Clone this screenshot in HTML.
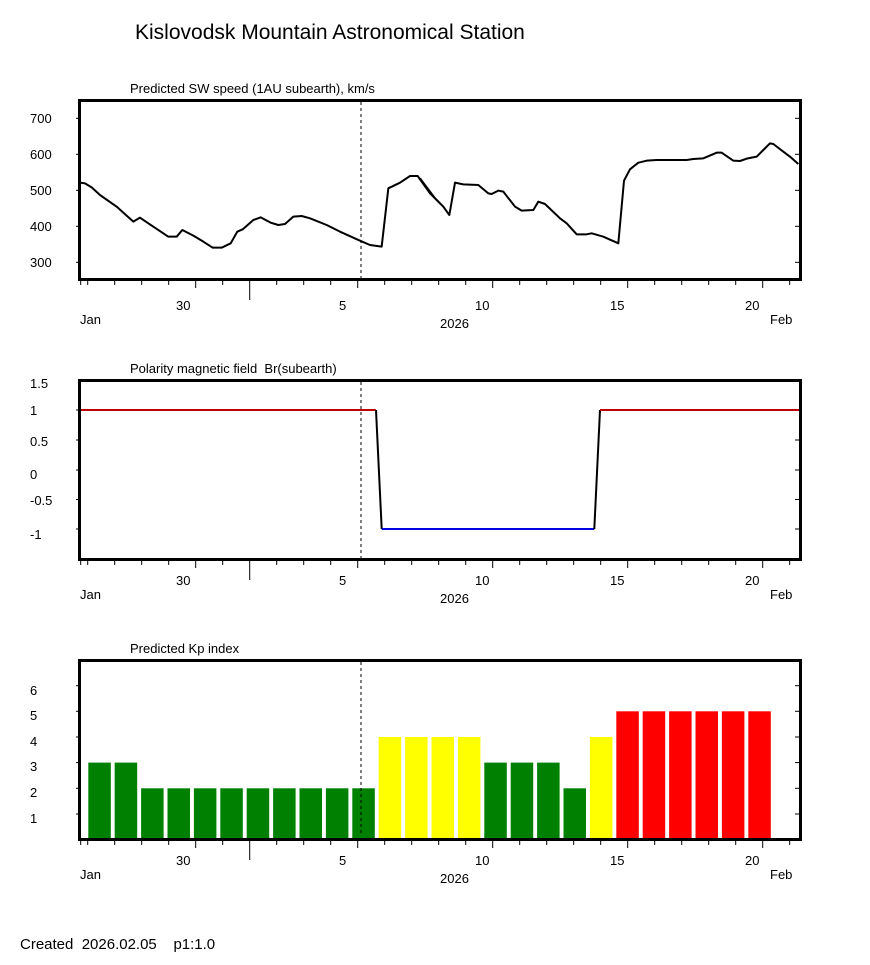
<!DOCTYPE html>
<html><head><meta charset="utf-8"><style>
html,body{margin:0;padding:0;background:#fff;}
svg{display:block;font-family:"Liberation Sans",Arial,sans-serif;}
text{white-space:pre;}
</style></head><body>
<svg width="870" height="965" viewBox="0 0 870 965" xmlns="http://www.w3.org/2000/svg">
<defs>
<g id="xt" stroke="#000" stroke-width="1">
<line x1="87.7" y1="0" x2="87.7" y2="4"/><line x1="114.7" y1="0" x2="114.7" y2="4"/><line x1="141.7" y1="0" x2="141.7" y2="4"/><line x1="168.7" y1="0" x2="168.7" y2="4"/><line x1="195.7" y1="0" x2="195.7" y2="7"/><line x1="222.7" y1="0" x2="222.7" y2="4"/><line x1="249.7" y1="0" x2="249.7" y2="19"/><line x1="276.7" y1="0" x2="276.7" y2="4"/><line x1="303.7" y1="0" x2="303.7" y2="4"/><line x1="330.7" y1="0" x2="330.7" y2="4"/><line x1="357.7" y1="0" x2="357.7" y2="7"/><line x1="384.7" y1="0" x2="384.7" y2="4"/><line x1="411.7" y1="0" x2="411.7" y2="4"/><line x1="438.7" y1="0" x2="438.7" y2="4"/><line x1="465.7" y1="0" x2="465.7" y2="4"/><line x1="492.7" y1="0" x2="492.7" y2="7"/><line x1="519.7" y1="0" x2="519.7" y2="4"/><line x1="546.7" y1="0" x2="546.7" y2="4"/><line x1="573.7" y1="0" x2="573.7" y2="4"/><line x1="600.7" y1="0" x2="600.7" y2="4"/><line x1="627.7" y1="0" x2="627.7" y2="7"/><line x1="654.7" y1="0" x2="654.7" y2="4"/><line x1="681.7" y1="0" x2="681.7" y2="4"/><line x1="708.7" y1="0" x2="708.7" y2="4"/><line x1="735.7" y1="0" x2="735.7" y2="4"/><line x1="762.7" y1="0" x2="762.7" y2="7"/><line x1="789.7" y1="0" x2="789.7" y2="4"/><line x1="80.7" y1="0" x2="80.7" y2="4"/>
</g>
<g id="xl" font-size="13" fill="#000">
<text x="176" y="0">30</text><text x="339" y="0">5</text><text x="475" y="0">10</text><text x="610" y="0">15</text><text x="745" y="0">20</text>
<text x="80" y="14">Jan</text><text x="440" y="18">2026</text><text x="770" y="14">Feb</text>
</g>
</defs>

<text x="135" y="39" font-size="21">Kislovodsk Mountain Astronomical Station</text>

<!-- Panel 1 -->
<text x="130" y="93" font-size="13">Predicted SW speed (1AU subearth), km/s</text>
<g font-size="13"><text x="30" y="123">700</text><text x="30" y="159">600</text><text x="30" y="195">500</text><text x="30" y="231">400</text><text x="30" y="267">300</text></g>
<g stroke="#000" stroke-width="1">
<line x1="76" y1="118.3" x2="79" y2="118.3"/><line x1="76" y1="154.3" x2="79" y2="154.3"/><line x1="76" y1="190.3" x2="79" y2="190.3"/><line x1="76" y1="226.3" x2="79" y2="226.3"/><line x1="76" y1="262.3" x2="79" y2="262.3"/>
<line x1="795" y1="118.3" x2="801" y2="118.3"/><line x1="795" y1="154.3" x2="801" y2="154.3"/><line x1="795" y1="190.3" x2="801" y2="190.3"/><line x1="795" y1="226.3" x2="801" y2="226.3"/><line x1="795" y1="262.3" x2="801" y2="262.3"/>
</g>
<line x1="361" y1="102" x2="361" y2="278" stroke="#000" stroke-width="1" stroke-dasharray="3,3"/>
<g transform="translate(20,90) scale(0.33333)" fill="none" stroke="#000" stroke-width="6" stroke-linejoin="round">
<polyline points="180,278 195,280 215,292 240,315 290,350 340,395 360,383 400,410 445,440 470,440 487,420 520,437 550,455 578,473 605,473 632,460 652,425 668,418 700,390 722,382 752,398 775,405 795,402 820,380 845,378 870,385 920,405 960,425 1020,452 1050,465 1085,470 1105,295 1140,278 1170,258 1193,258 1230,310 1260,340"/>
</g>
<g transform="translate(420,90) scale(0.33333)" fill="none" stroke="#000" stroke-width="6" stroke-linejoin="round">
<polyline points="0,265 45,325 70,350 88,375 105,278 130,283 175,285 205,310 215,312 235,302 250,305 285,350 305,362 340,360 355,335 375,342 420,385 440,400 470,433 500,433 515,430 550,440 595,460 612,272 630,238 655,218 680,212 710,210 800,210 820,207 850,205 890,188 905,188 940,212 960,213 980,206 1010,200 1030,180 1050,160 1060,162 1090,185 1110,200 1135,222"/>
</g>
<rect x="79.5" y="100.5" width="721" height="179" fill="none" stroke="#000" stroke-width="3"/>
<use href="#xt" y="281"/>
<use href="#xl" y="310"/>

<!-- Panel 2 -->
<text x="130" y="373" font-size="13">Polarity magnetic field  Br(subearth)</text>
<g font-size="13"><text x="30" y="388">1.5</text><text x="30" y="415">1</text><text x="30" y="446">0.5</text><text x="30" y="479">0</text><text x="30" y="505">-0.5</text><text x="30" y="539">-1</text></g>
<g stroke="#000" stroke-width="1">
<line x1="76" y1="410" x2="79" y2="410"/><line x1="76" y1="440" x2="79" y2="440"/><line x1="76" y1="470" x2="79" y2="470"/><line x1="76" y1="499.5" x2="79" y2="499.5"/><line x1="76" y1="529" x2="79" y2="529"/>
<line x1="795" y1="440" x2="801" y2="440"/><line x1="795" y1="470" x2="801" y2="470"/><line x1="795" y1="499.5" x2="801" y2="499.5"/><line x1="795" y1="529" x2="801" y2="529"/>
</g>
<line x1="361" y1="382" x2="361" y2="558" stroke="#000" stroke-width="1" stroke-dasharray="3,3"/>
<line x1="80" y1="410" x2="376" y2="410" stroke="#c00000" stroke-width="2"/>
<polyline points="376,410 381.7,529" fill="none" stroke="#000" stroke-width="2"/>
<line x1="381.7" y1="529" x2="594.3" y2="529" stroke="#0000e0" stroke-width="2"/>
<polyline points="594.3,529 600,410" fill="none" stroke="#000" stroke-width="2"/>
<line x1="600" y1="410" x2="801" y2="410" stroke="#c00000" stroke-width="2"/>
<rect x="79.5" y="380.5" width="721" height="179" fill="none" stroke="#000" stroke-width="3"/>
<use href="#xt" y="561"/>
<use href="#xl" y="585"/>

<!-- Panel 3 -->
<text x="130" y="653" font-size="13">Predicted Kp index</text>
<g font-size="13"><text x="30" y="695">6</text><text x="30" y="720">5</text><text x="30" y="746">4</text><text x="30" y="771">3</text><text x="30" y="797">2</text><text x="30" y="823">1</text></g>
<g stroke="#000" stroke-width="1">
<line x1="76" y1="685.7" x2="79" y2="685.7"/><line x1="76" y1="711.3" x2="79" y2="711.3"/><line x1="76" y1="737" x2="79" y2="737"/><line x1="76" y1="762.6" x2="79" y2="762.6"/><line x1="76" y1="788.3" x2="79" y2="788.3"/><line x1="76" y1="814" x2="79" y2="814"/>
<line x1="795" y1="685.7" x2="801" y2="685.7"/><line x1="795" y1="711.3" x2="801" y2="711.3"/><line x1="795" y1="737" x2="801" y2="737"/><line x1="795" y1="762.6" x2="801" y2="762.6"/><line x1="795" y1="788.3" x2="801" y2="788.3"/><line x1="795" y1="814" x2="801" y2="814"/>
</g>
<g>
<rect x="88.3" y="762.6" width="22.5" height="77" fill="#008000"/>
<rect x="114.7" y="762.6" width="22.5" height="77" fill="#008000"/>
<rect x="141.1" y="788.3" width="22.5" height="51" fill="#008000"/>
<rect x="167.5" y="788.3" width="22.5" height="51" fill="#008000"/>
<rect x="193.9" y="788.3" width="22.5" height="51" fill="#008000"/>
<rect x="220.3" y="788.3" width="22.5" height="51" fill="#008000"/>
<rect x="246.7" y="788.3" width="22.5" height="51" fill="#008000"/>
<rect x="273.1" y="788.3" width="22.5" height="51" fill="#008000"/>
<rect x="299.5" y="788.3" width="22.5" height="51" fill="#008000"/>
<rect x="325.9" y="788.3" width="22.5" height="51" fill="#008000"/>
<rect x="352.3" y="788.3" width="22.5" height="51" fill="#008000"/>
<rect x="378.7" y="737" width="22.5" height="102" fill="#ffff00"/>
<rect x="405.1" y="737" width="22.5" height="102" fill="#ffff00"/>
<rect x="431.5" y="737" width="22.5" height="102" fill="#ffff00"/>
<rect x="457.9" y="737" width="22.5" height="102" fill="#ffff00"/>
<rect x="484.3" y="762.6" width="22.5" height="77" fill="#008000"/>
<rect x="510.7" y="762.6" width="22.5" height="77" fill="#008000"/>
<rect x="537.1" y="762.6" width="22.5" height="77" fill="#008000"/>
<rect x="563.5" y="788.3" width="22.5" height="51" fill="#008000"/>
<rect x="589.9" y="737" width="22.5" height="102" fill="#ffff00"/>
<rect x="616.3" y="711.3" width="22.5" height="128" fill="#ff0000"/>
<rect x="642.7" y="711.3" width="22.5" height="128" fill="#ff0000"/>
<rect x="669.1" y="711.3" width="22.5" height="128" fill="#ff0000"/>
<rect x="695.5" y="711.3" width="22.5" height="128" fill="#ff0000"/>
<rect x="721.9" y="711.3" width="22.5" height="128" fill="#ff0000"/>
<rect x="748.3" y="711.3" width="22.5" height="128" fill="#ff0000"/>
</g>
<line x1="361" y1="662" x2="361" y2="833" stroke="#000" stroke-width="1" stroke-dasharray="3,3"/>
<rect x="79.5" y="660.5" width="721" height="179" fill="none" stroke="#000" stroke-width="3"/>
<use href="#xt" y="841"/>
<use href="#xl" y="865"/>

<text x="20" y="949" font-size="15">Created  2026.02.05    p1:1.0</text>
</svg>
</body></html>
